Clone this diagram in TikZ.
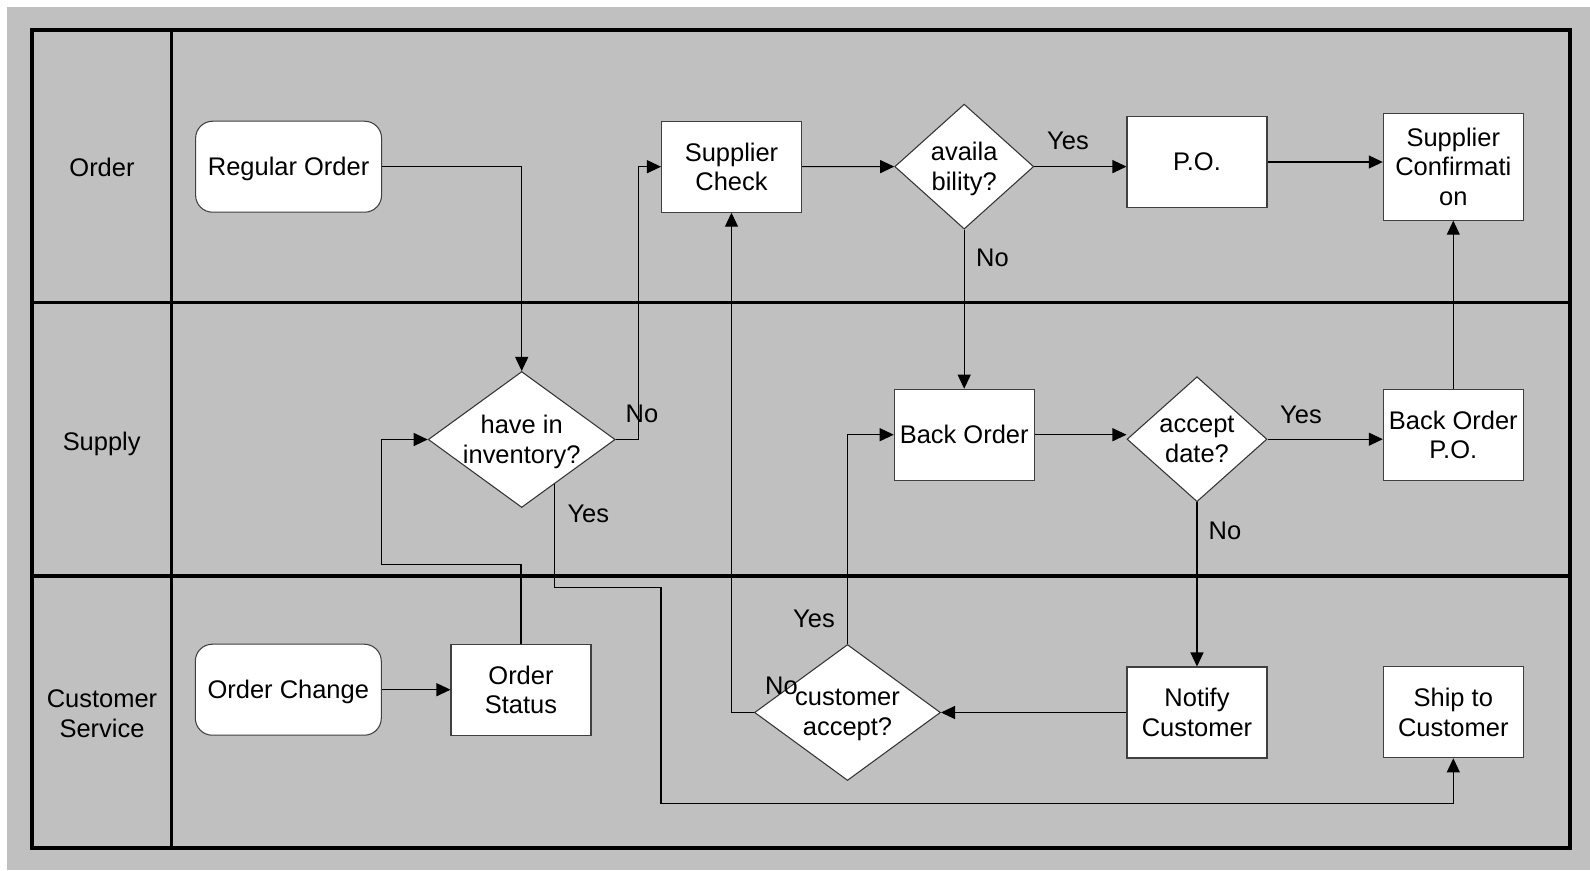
\documentclass[tikz,border=0pt]{standalone}
\usepackage{fontspec}
\setmainfont{Liberation Sans}
\usetikzlibrary{arrows.meta,positioning,calc,shapes.geometric}
\definecolor{lanegray}{HTML}{C0C0C0}

\begin{document}
\begin{tikzpicture}[x=0.02cm, y=-0.02cm, >={Triangle[length=0.28cm,width=0.26cm]},
  font=\fontsize{14.5pt}{17pt}\selectfont, every node/.style={text depth=0pt},
  proc/.style={draw=black!75, fill=white, line width=0.6pt, minimum width=2.8cm, minimum height=1.82cm, align=center, inner sep=2pt},
  start/.style={proc, rounded corners=0.34cm, minimum width=3.72cm},
  decision/.style={diamond, draw=black!80, fill=white, line width=0.6pt, align=center, inner sep=-8pt, aspect=1.2},
  lanename/.style={align=center},
  answer/.style={inner sep=0pt},
  flow/.style={->, line width=0.6pt},
  lane/.style={line width=1.9pt}]
  % background and swimlanes
  \fill[white] (0,0) rectangle (1590,870);
  \fill[lanegray] (7,7) rectangle (1590,870);
  \draw[lane] (32,30) rectangle (1570,848);
  \draw[lane] (171.5,30) -- (171.5,848);
  \draw[lane] (32,302.7) -- (1570,302.7);
  \draw[lane] (32,576) -- (1570,576);

  \node[lanename] (order) at (102,167) {Order};
  \node[lanename] (supply) at (101.7,441) {Supply};
  \node[lanename] (custserv) at (102,713.5) {Customer\\Service};

  % Order lane
  \node[start] (regular) at (288.6,166.7) {Regular Order};
  \node[proc] (supcheck) at (731.5,166.7) {Supplier\\Check};
  \node[decision, minimum width=2.78cm, minimum height=2.5cm] (avail) at (964.2,166.6) {availa\\bility?};
  \node[proc] (po) at (1197,162) {P.O.};
  \node[proc, minimum height=2.14cm] (supconf) at (1453.3,166.7) {Supplier\\Confirmati\\on};

  % Supply lane
  \node[decision, minimum width=3.74cm, minimum height=2.72cm] (inv) at (521.7,439.5) {have in\\inventory?};
  \node[proc] (backorder) at (964.2,434.7) {Back Order};
  \node[decision, minimum width=2.8cm, minimum height=2.5cm] (accdate) at (1197,439.2) {accept\\date?};
  \node[proc] (bopo) at (1453.3,434.7) {Back Order\\P.O.};

  % Customer Service lane
  \node[start] (ordchange) at (288.3,689.7) {Order Change};
  \node[proc] (ordstatus) at (521,689.7) {Order\\Status};
  \node[decision, minimum width=3.72cm, minimum height=2.72cm] (custacc) at (847.5,712.5) {customer\\accept?};
  \node[proc] (notify) at (1197,712.5) {Notify\\Customer};
  \node[proc] (ship) at (1453.3,712.3) {Ship to\\Customer};

  % flows
  \draw[flow] (regular.east) -| (inv.north);
  \draw[flow] (inv.east) -- ++(22.7,0) |- (supcheck.west);
  \draw[flow] (supcheck.east) -- (avail.west);
  \draw[flow] (avail.east) -- (avail.east -| po.west);
  \draw[flow] (po.east) -- (po.east -| supconf.west);
  \draw[flow] (avail.south) -- (backorder.north);
  \draw[flow] (backorder.east) -- (backorder.east -| accdate.west);
  \draw[flow] (accdate.east) -- (accdate.east -| bopo.west);
  \draw[flow] (bopo.north) -- (supconf.south);
  \draw[flow] (accdate.south) -- (notify.north);
  \draw[flow] (notify.west) -- (custacc.east);
  \draw[flow] (custacc.north) |- (backorder.west);
  \draw[flow] (custacc.west) -| (supcheck.south);
  \draw[flow] (ordchange.east) -- (ordstatus.west);
  \draw[flow] (ordstatus.north) |- (381.7,564.3) |- (inv.west);
  \draw[flow] ($(inv.south)!0.35!(inv.east)$) |- (661,587.7) -- (661,803.3) -| (ship.south);

  % answers
  \node[answer] (invno) at (642,413.3) {No};
  \node[answer] (invyes) at (588.3,513.3) {Yes};
  \node[answer] (availyes) at (1068,141) {Yes};
  \node[answer] (availno) at (992.5,257.7) {No};
  \node[answer] (accyes) at (1301,414.3) {Yes};
  \node[answer] (accno) at (1225,530.7) {No};
  \node[answer] (custyes) at (814,618.3) {Yes};
  \node[answer] (custno) at (781.5,686) {No};
\end{tikzpicture}
\end{document}
